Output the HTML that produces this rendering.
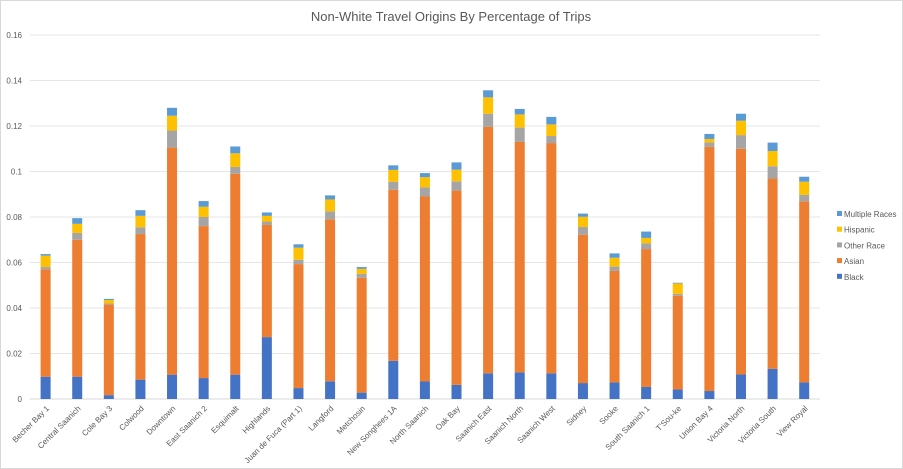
<!DOCTYPE html>
<html><head><meta charset="utf-8"><style>
body{margin:0;background:#fff;}
svg{display:block;font-family:"Liberation Sans",sans-serif;}
</style></head><body>
<svg id="c" width="903" height="469">
<rect x="0.5" y="0.5" width="902" height="468" fill="#fff" stroke="#d9d9d9"/>
<text x="451" y="21" text-anchor="middle" font-size="13" fill="#595959">Non-White Travel Origins By Percentage of Trips</text>
<g id="grid"></g><g id="bars"></g><g id="xl"></g><g id="legend"></g>
</svg>
<script>
const categories=["Becher Bay 1","Central Saanich","Cole Bay 3","Colwood","Downtown","East Saanich 2","Esquimalt","Highlands","Juan de Fuca (Part 1)","Langford","Metchosin","New Songhees 1A","North Saanich","Oak Bay","Saanich East","Saanich North","Saanich West","Sidney","Sooke","South Saanich 1","T'Sou-ke","Union Bay 4","Victoria North","Victoria South","View Royal"];
const black=[0.0098,0.0098,0.0017,0.0085,0.0107,0.0092,0.0107,0.0272,0.0048,0.0078,0.0028,0.0168,0.0077,0.0062,0.0113,0.0117,0.0113,0.0070,0.0073,0.0053,0.0042,0.0035,0.0108,0.0133,0.0073];
const asian=[0.0472,0.0602,0.0398,0.0640,0.0998,0.0668,0.0883,0.0493,0.0545,0.0712,0.0505,0.0752,0.0813,0.0854,0.1083,0.1013,0.1012,0.0652,0.0490,0.0606,0.0412,0.1073,0.0992,0.0836,0.0796];
const otherRace=[0.0010,0.0030,0.0005,0.0030,0.0075,0.0040,0.0030,0.0015,0.0019,0.0035,0.0017,0.0035,0.0040,0.0041,0.0058,0.0063,0.0031,0.0034,0.0019,0.0025,0.0008,0.0020,0.0060,0.0054,0.0028];
const hispanic=[0.0050,0.0040,0.0015,0.0050,0.0065,0.0045,0.0060,0.0025,0.0053,0.0052,0.0022,0.0052,0.0045,0.0051,0.0072,0.0058,0.0051,0.0045,0.0039,0.0024,0.0046,0.0015,0.0063,0.0067,0.0058];
const multiple=[0.0007,0.0025,0.0005,0.0025,0.0035,0.0025,0.0030,0.0015,0.0015,0.0018,0.0008,0.0020,0.0018,0.0032,0.0031,0.0024,0.0033,0.0014,0.0019,0.0028,0.0003,0.0022,0.0031,0.0037,0.0022];
const yTicks=[0,0.02,0.04,0.06,0.08,0.1,0.12,0.14,0.16];
const yTickLabels=["0","0.02","0.04","0.06","0.08","0.1","0.12","0.14","0.16"];
const seriesNames=["Multiple Races","Hispanic","Other Race","Asian","Black"];

const NS="http://www.w3.org/2000/svg";
const L=29.8,R=820,T=35,B=399,yMax=0.16;
const band=(R-L)/categories.length;
const y=v=>B-(v/yMax)*(B-T);
const xc=i=>L+band*(i+0.5);
function mk(tag,attrs,parent){const e=document.createElementNS(NS,tag);for(const k in attrs)e.setAttribute(k,attrs[k]);parent.appendChild(e);return e;}
const grid=document.getElementById('grid');
yTicks.forEach((t,i)=>{
  const ln=mk('line',{x1:L,x2:R,y1:y(t),y2:y(t),stroke:i==0?'#d9d9d9':'#e6e6e6','stroke-width':1},grid);
  
  
  const tx=mk('text',{x:22,y:y(t)+3,'text-anchor':'end','font-size':8,fill:'#595959'},grid);
  tx.textContent=yTickLabels[i];
  
  
});
const series=[[black,'#4472c4','black'],[asian,'#ed7d31','asian'],[otherRace,'#a5a5a5','other-race'],[hispanic,'#ffc000','hispanic'],[multiple,'#5b9bd5','multiple-races']];
const bars=document.getElementById('bars'),xl=document.getElementById('xl');
const bw=10;
categories.forEach((c,i)=>{
  let cum=0;
  series.forEach(([arr,col,nm])=>{
    const v=arr[i];
    const r=mk('rect',{x:xc(i)-bw/2,y:y(cum+v),width:bw,height:Math.max(0,y(cum)-y(cum+v)),fill:col},bars);
    
    
    cum+=v;
  });
  const tx=mk('text',{x:xc(i)+4,y:409,'text-anchor':'end','font-size':8,fill:'#595959',transform:`rotate(-45 ${xc(i)+4} 409)`},xl);
  tx.textContent=c;
  
  
});
const lg=document.getElementById('legend');
const lcols=['#5b9bd5','#ffc000','#a5a5a5','#ed7d31','#4472c4'];
seriesNames.forEach((n,i)=>{
  const yy=215+i*15.7;
  const g=mk('g',{},lg);
  
  
  mk('rect',{x:837,y:yy-4,width:5,height:5,fill:lcols[i]},g);
  const t=mk('text',{x:844,y:yy+2,'font-size':8,fill:'#595959'},g);
  t.textContent=n;
});
</script>
</body></html>
